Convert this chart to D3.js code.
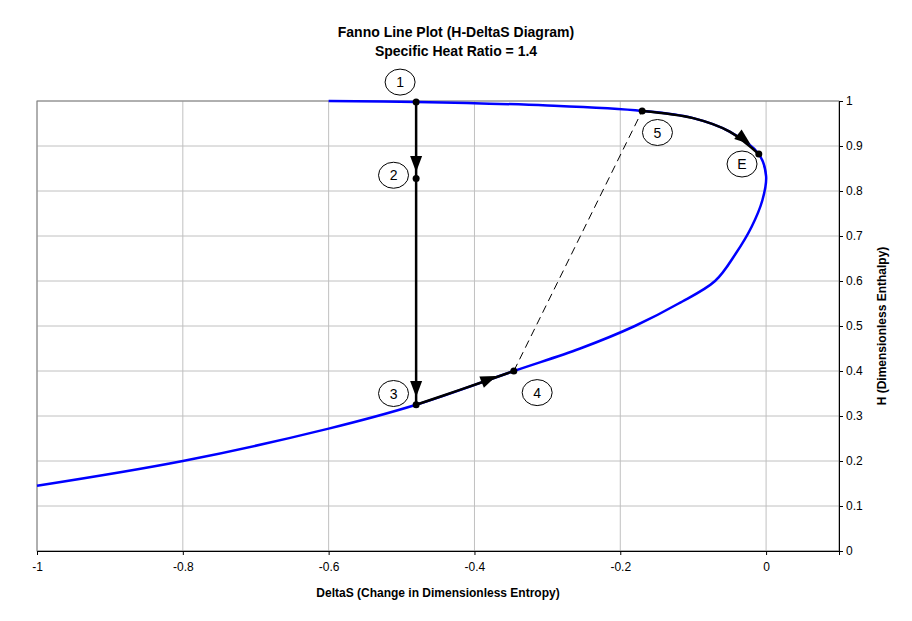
<!DOCTYPE html><html><head><meta charset="utf-8"><script src="https://cdn.jsdelivr.net/npm/d3@7"></script>
<style>body{margin:0;background:#fff}text{font-family:Arial,"Liberation Sans",sans-serif}</style></head><body>
<script>
const xTicks=[-1,-0.8,-0.6,-0.4,-0.2,0];
const yTicks=[0,0.1,0.2,0.3,0.4,0.5,0.6,0.7,0.8,0.9,1];
const fannoS=[-0.6,-0.48,-0.3,-0.17,-0.1,-0.05,-0.01,0,-0.005,-0.02,-0.042,-0.07,-0.12,-0.18,-0.255,-0.346,-0.48,-0.6,-0.8,-1.0];
const fannoH=[1.0,0.998,0.99,0.978,0.962,0.932,0.882,0.833,0.78,0.72,0.66,0.6,0.55,0.5,0.45,0.4,0.325,0.272,0.2,0.145];
const seg34S=[-0.48,-0.42,-0.346], seg34H=[0.325,0.358,0.4];
const seg5ES=[-0.17,-0.1,-0.05,-0.01], seg5EH=[0.978,0.962,0.932,0.882];
const ptNames=["1","2","3","4","5","E"];
const ptS=[-0.48,-0.48,-0.48,-0.346,-0.17,-0.01];
const ptH=[0.998,0.828,0.325,0.4,0.978,0.882];
const lblS=[-0.502,-0.511,-0.511,-0.314,-0.149,-0.033];
const lblH=[1.042,0.835,0.35,0.352,0.93,0.86];

const svg=d3.select("body").append("svg").attr("width",912).attr("height",621);
const x=d3.scaleLinear().domain([-1,0.1]).range([37,839]);
const y=d3.scaleLinear().domain([0,1]).range([551,101]);
svg.selectAll(".gx").data(xTicks).enter().append("line").attr("x1",d=>x(d)).attr("x2",d=>x(d)).attr("y1",101).attr("y2",551).attr("stroke","#c0c0c0");
svg.selectAll(".gy").data(yTicks).enter().append("line").attr("x1",37).attr("x2",839).attr("y1",d=>y(d)).attr("y2",d=>y(d)).attr("stroke","#c0c0c0");
svg.append("rect").attr("x",37).attr("y",101).attr("width",802).attr("height",450).attr("fill","none").attr("stroke","#808080");
const fmt=d=>d===0?"0":String(d).replace("-","-");
const bx=svg.append("g").attr("transform","translate(0,551)").call(d3.axisBottom(x).tickValues(xTicks).tickSize(4).tickFormat(fmt));
const ry=svg.append("g").attr("transform","translate(839,0)").call(d3.axisRight(y).tickValues(yTicks).tickSize(4).tickFormat(fmt));
[bx,ry].forEach(g=>{g.select(".domain").attr("stroke","#000");g.selectAll("text").attr("font-size",12).attr("fill","#000");});
bx.selectAll("text").attr("dy","1.1em");
const line=d3.line().x(d=>x(d[0])).y(d=>y(d[1])).curve(d3.curveCatmullRom);
svg.append("path").attr("d",line(fannoS.map((s,i)=>[s,fannoH[i]]))).attr("fill","none").attr("stroke","#0000ff").attr("stroke-width",2.5);
svg.append("line").attr("x1",x(ptS[0])).attr("x2",x(ptS[0])).attr("y1",y(ptH[0])).attr("y2",y(ptH[2])).attr("stroke","#000").attr("stroke-width",2.5);
svg.append("path").attr("d",line(seg34S.map((s,i)=>[s,seg34H[i]]))).attr("fill","none").attr("stroke","#000").attr("stroke-width",2.5);
svg.append("path").attr("d",line(seg5ES.map((s,i)=>[s,seg5EH[i]]))).attr("fill","none").attr("stroke","#000").attr("stroke-width",2.5);
svg.append("line").attr("x1",x(ptS[3])).attr("y1",y(ptH[3])).attr("x2",x(ptS[4])).attr("y2",y(ptH[4])).attr("stroke","#000").attr("stroke-dasharray","8,5");
function arrow(s,h,ang){const g=svg.append("g").attr("transform",`translate(${x(s)},${y(h)}) rotate(${ang})`);g.append("path").attr("d","M8,0 L-8,-6 L-8,6 Z").attr("fill","#000");}
arrow(-0.48,0.86,90);arrow(-0.48,0.36,90);arrow(-0.38,0.382,-22);arrow(-0.03,0.915,38);
svg.selectAll(".pt").data(ptS).enter().append("circle").attr("cx",d=>x(d)).attr("cy",(d,i)=>y(ptH[i])).attr("r",3.5).attr("fill","#000");
const lg=svg.selectAll(".lb").data(ptNames).enter().append("g").attr("transform",(d,i)=>`translate(${x(lblS[i])},${y(lblH[i])})`);
lg.append("ellipse").attr("rx",15).attr("ry",13).attr("fill","#fff").attr("stroke","#000");
lg.append("text").text(d=>d).attr("text-anchor","middle").attr("dy","0.36em").attr("font-size",14);
svg.append("text").attr("x",456).attr("y",37).attr("text-anchor","middle").attr("font-size",14).attr("font-weight","bold").text("Fanno Line Plot (H-DeltaS Diagram)");
svg.append("text").attr("x",456).attr("y",56).attr("text-anchor","middle").attr("font-size",14).attr("font-weight","bold").text("Specific Heat Ratio = 1.4");
svg.append("text").attr("x",438).attr("y",597).attr("text-anchor","middle").attr("font-size",12).attr("font-weight","bold").text("DeltaS (Change in Dimensionless Entropy)");
svg.append("text").attr("transform","translate(886,326) rotate(-90)").attr("text-anchor","middle").attr("font-size",12).attr("font-weight","bold").text("H (Dimensionless Enthalpy)");
</script></body></html>
